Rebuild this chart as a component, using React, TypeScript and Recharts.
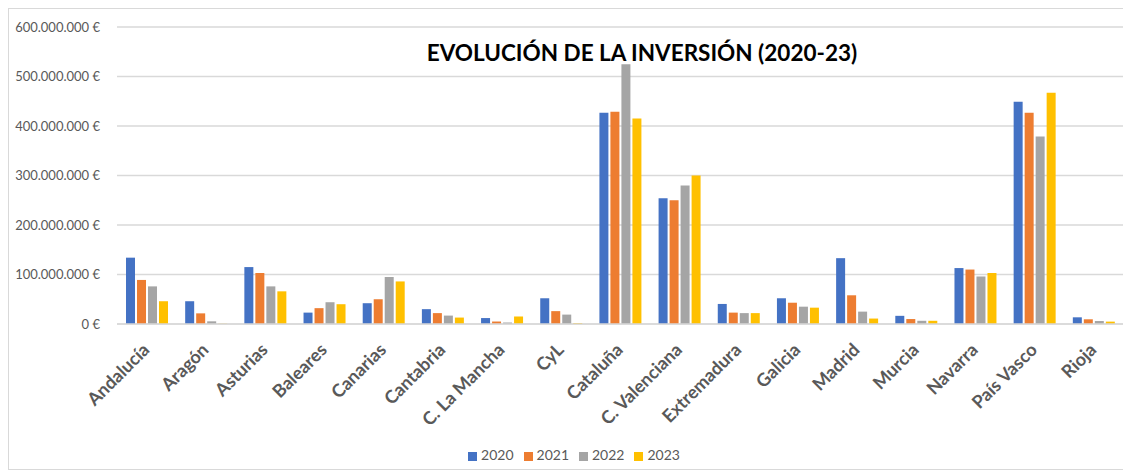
import React from "react";
import {
  BarChart,
  Bar,
  XAxis,
  YAxis,
  CartesianGrid,
  Legend,
} from "recharts";

const REGIONS = [
  "Andalucía", "Aragón", "Asturias", "Baleares", "Canarias", "Cantabria",
  "C. La Mancha", "CyL", "Cataluña", "C. Valenciana", "Extremadura",
  "Galicia", "Madrid", "Murcia", "Navarra", "País Vasco", "Rioja",
];

// values in millions of euros
const Y2020 = [134, 46, 115, 23, 42, 30, 12, 52, 427, 254, 40.5, 52, 133, 16.5, 113, 449, 13.5];
const Y2021 = [89, 21.5, 103, 32, 50, 22, 5, 26, 429, 250, 23, 43, 58, 10, 110, 427, 9.5];
const Y2022 = [76, 5.4, 76, 44, 95, 17, 3, 19, 525, 280, 22, 35, 25, 6.5, 96, 379, 6];
const Y2023 = [46, 0.6, 66, 40, 86, 13, 15, 2, 415, 300, 22, 33, 11, 6.5, 103, 467, 4.8];

const Y_TICKS = [0, 100, 200, 300, 400, 500, 600];

const SERIES = [
  { key: "2020", values: Y2020, color: "#4472C4" },
  { key: "2021", values: Y2021, color: "#ED7D31" },
  { key: "2022", values: Y2022, color: "#A5A5A5" },
  { key: "2023", values: Y2023, color: "#FFC000" },
];

const data = REGIONS.map((r, i) => {
  const row: Record<string, string | number> = { region: r };
  for (const s of SERIES) row[s.key] = s.values[i] * 1e6;
  return row;
});

const FONT = "Lato, 'Open Sans', sans-serif";

function euro(v: number) {
  return String(Math.round(v)).replace(/\B(?=(\d{3})+(?!\d))/g, ".") + " €";
}

// rotated category label, end of text near the category centre
function RegionTick(props: any) {
  const { x, y, payload } = props;
  return (
    <g transform={`translate(${x + 4},${y + 27})`}>
      <text
        transform="rotate(-45)"
        textAnchor="end"
        fill="#595959"
        fontSize={18}
        fontWeight={700}
        fontFamily={FONT}
      >
        {payload.value}
      </text>
    </g>
  );
}

export default function App() {
  return (
    <div
      style={{
        position: "relative",
        width: 1122,
        height: 462,
        border: "1px solid #d9d9d9",
        boxSizing: "border-box",
        fontFamily: FONT,
        background: "#fff",
      }}
    >
      <BarChart
        width={1120}
        height={460}
        data={data}
        margin={{ top: 18, right: 6, bottom: 6, left: 0 }}
        barGap={2}
        barSize={9}
      >
        <CartesianGrid vertical={false} stroke="#d9d9d9" strokeWidth={1.3} />
        <XAxis
          dataKey="region"
          interval={0}
          height={122}
          axisLine={{ stroke: "#d9d9d9", strokeWidth: 1.3 }}
          tickLine={false}
          tickSize={0}
          tickMargin={0}
          tick={<RegionTick />}
        />
        <YAxis
          width={108}
          domain={[0, 600e6]}
          ticks={Y_TICKS.map((t) => t * 1e6)}
          tickFormatter={euro}
          axisLine={false}
          tickLine={false}
          tickMargin={11}
          tick={{ fill: "#595959", fontSize: 13, fontFamily: FONT }}
        />
        <Legend
          verticalAlign="bottom"
          iconType="square"
          iconSize={9}
          wrapperStyle={{
            fontSize: 14,
            fontFamily: FONT,
            left: 0,
            width: 1140,
            padding: 0,
            boxSizing: "border-box",
          }}
          formatter={(v) => <span style={{ color: "#595959" }}>{v}</span>}
        />
        {SERIES.map((s) => (
          <Bar
            key={s.key}
            dataKey={s.key}
            fill={s.color}
            isAnimationActive={false}
          />
        ))}
      </BarChart>
      <div
        style={{
          position: "absolute",
          left: 0,
          width: 1266,
          top: 30,
          textAlign: "center",
          fontSize: 22.5,
          fontWeight: 700,
          color: "#000",
          pointerEvents: "none",
        }}
      >
        EVOLUCIÓN DE LA INVERSIÓN (2020-23)
      </div>
    </div>
  );
}
